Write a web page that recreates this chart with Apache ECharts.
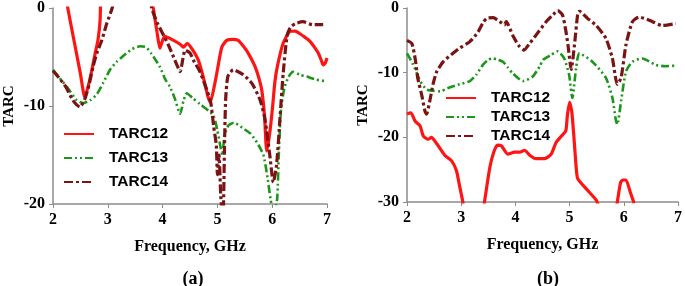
<!DOCTYPE html>
<html>
<head>
<meta charset="utf-8">
<script src="https://cdn.jsdelivr.net/npm/echarts@6/dist/echarts.min.js"></script>
<style>
  html, body { margin: 0; padding: 0; background: #fff; }
  #chart { width: 685px; height: 286px; }
</style>
</head>
<body>
<div id="chart"></div>
<script>
// [frequency GHz, TARC dB]; null = curve leaves the plot
const a12 = [[2.22, 2], [2.27, 0], [2.4, -3.8], [2.5, -6.7], [2.58, -9.1], [2.65, -7.8], [2.71, -6.3], [2.77, -4.6], [2.82, -3.3], [2.86, -1.2], [2.87, 2], null,
  [3.78, 2], [3.83, 0], [3.9, -2.5], [3.95, -4.1], [4.0, -3.3], [4.04, -2.9], [4.2, -3.3], [4.32, -3.7], [4.38, -4.0], [4.45, -3.6], [4.54, -4.2], [4.65, -5.3], [4.74, -7.0], [4.83, -9.1], [4.87, -9.6],
  [4.95, -7.8], [5.01, -6.0], [5.08, -4.0], [5.17, -3.3], [5.28, -3.2], [5.38, -3.3], [5.46, -3.8], [5.54, -4.4], [5.62, -5.2], [5.69, -6.0], [5.76, -7.2], [5.81, -8.4], [5.86, -11.0], [5.9, -14.6],
  [5.95, -13.0], [6.0, -10.5], [6.05, -7.5], [6.1, -5.8], [6.2, -3.6], [6.32, -2.4], [6.42, -2.35], [6.5, -2.6], [6.6, -3.0], [6.69, -3.4], [6.77, -4.0], [6.84, -4.6], [6.9, -5.4], [6.93, -5.8], [6.97, -5.6], [7.0, -5.1]];
const a13 = [[2, -6.3], [2.1, -7.0], [2.26, -8.1], [2.43, -9.4], [2.55, -9.7], [2.68, -9.4], [2.8, -8.8], [2.92, -7.6], [3.04, -6.3], [3.16, -5.5], [3.28, -4.9], [3.44, -4.2], [3.59, -3.9], [3.7, -4.0], [3.8, -4.7],
  [3.95, -6.0], [4.05, -7.3], [4.13, -8.0], [4.22, -9.2], [4.32, -10.8], [4.38, -9.5], [4.44, -8.7], [4.55, -9.2], [4.68, -9.8], [4.8, -10.3], [4.93, -11.0], [5.0, -12.5], [5.05, -14.0], [5.09, -15.0],
  [5.13, -13.0], [5.2, -12.0], [5.3, -11.7], [5.45, -12.2], [5.6, -12.8], [5.72, -13.7], [5.84, -15.0], [5.92, -17.5], [5.97, -19.5], [6.03, -21], [6.09, -19.5], [6.12, -15], [6.16, -10.4], [6.22, -8.2],
  [6.3, -7.0], [6.38, -6.5], [6.5, -6.8], [6.63, -7.0], [6.8, -7.3], [7, -7.5]];
const a14 = [[2, -6.4], [2.12, -7.2], [2.24, -8.1], [2.36, -9.4], [2.49, -10.1], [2.58, -9.3], [2.66, -7.8], [2.73, -6.0], [2.8, -4.6], [2.89, -3.3], [2.98, -1.6], [3.08, 0], [3.13, 1.5], null,
  [3.76, 1.5], [3.8, 0], [3.9, -1.5], [4.01, -2.7], [4.1, -3.7], [4.2, -5.0], [4.26, -5.8], [4.32, -6.5], [4.37, -5.2], [4.41, -4.3], [4.5, -4.6], [4.56, -5.3], [4.68, -6.5], [4.81, -8.4], [4.88, -9.7],
  [4.93, -12], [4.98, -14], [5.0, -17], [5.03, -15], [5.06, -19], [5.1, -22], [5.13, -14], [5.15, -9.4], [5.19, -7.0], [5.29, -6.3], [5.47, -6.8], [5.63, -7.7], [5.78, -9.4], [5.87, -11.4], [5.96, -15.2],
  [6.02, -17.8], [6.08, -16], [6.14, -11.4], [6.2, -6.7], [6.27, -2.9], [6.33, -2.0], [6.42, -1.6], [6.56, -1.4], [6.74, -1.7], [6.93, -1.7]];

const b12 = [[2.0, -16.4], [2.07, -16.2], [2.15, -17.5], [2.24, -18.2], [2.3, -19.8], [2.39, -20.3], [2.45, -20.0], [2.55, -21.0], [2.7, -22.8], [2.82, -23.6], [2.91, -25.1], [2.97, -27.5], [3.03, -30], [3.06, -32], null,
  [3.4, -32], [3.43, -30], [3.53, -24.6], [3.6, -22.3], [3.67, -21.2], [3.74, -21.3], [3.86, -22.6], [3.99, -22.3], [4.08, -22.3], [4.17, -22.0], [4.27, -22.8], [4.38, -23.3], [4.54, -23.3], [4.66, -22.6],
  [4.75, -20.8], [4.85, -19.8], [4.93, -19.0], [4.96, -16.5], [5.0, -14.6], [5.04, -16], [5.08, -20], [5.12, -24.5], [5.15, -26.4], [5.3, -27.9], [5.49, -29.7], [5.53, -30.5], null,
  [5.86, -31], [5.88, -30], [5.94, -27], [5.98, -26.6], [6.04, -26.6], [6.12, -28.5], [6.19, -30.2]];
const b13 = [[2.0, -7.0], [2.11, -8.7], [2.18, -10.0], [2.24, -11.3], [2.36, -12.6], [2.48, -12.8], [2.61, -12.9], [2.75, -12.4], [2.97, -11.8], [3.16, -11.3], [3.28, -10.3], [3.4, -8.8], [3.5, -8.0],
  [3.58, -7.8], [3.68, -8.0], [3.77, -8.3], [3.86, -9.2], [3.95, -10.1], [4.14, -11.3], [4.32, -10.6], [4.45, -9.0], [4.51, -8.0], [4.65, -7.3], [4.78, -6.7], [4.9, -7.8], [4.99, -10.3], [5.05, -13.9],
  [5.12, -9.3], [5.18, -7.0], [5.42, -8.3], [5.67, -10.8], [5.79, -13.9], [5.85, -17.2], [5.88, -18.0], [5.95, -14.4], [6.04, -9.8], [6.16, -8.3], [6.34, -7.8], [6.59, -8.8], [6.77, -9.0], [6.98, -8.9]];
const b14 = [[2.0, -5.0], [2.09, -5.5], [2.15, -7.8], [2.2, -10.9], [2.27, -13.4], [2.33, -15.9], [2.36, -16.4], [2.42, -14.4], [2.48, -11.8], [2.55, -9.8], [2.67, -8.3], [2.82, -7.2], [2.97, -6.2],
  [3.16, -5.2], [3.31, -3.7], [3.4, -2.3], [3.47, -1.6], [3.59, -1.5], [3.71, -2.1], [3.8, -2.6], [3.83, -2.1], [3.95, -4.2], [4.06, -5.8], [4.16, -6.5], [4.26, -5.5], [4.38, -4.2], [4.57, -2.1],
  [4.7, -1.0], [4.78, -0.4], [4.87, -1.1], [4.93, -3.5], [4.97, -5.7], [5.03, -9.5], [5.09, -5.7], [5.15, -0.9], [5.18, -0.5], [5.33, -1.6], [5.49, -2.7], [5.67, -4.7], [5.79, -7.8], [5.88, -11.8],
  [5.95, -10.8], [6.04, -5.7], [6.16, -2.1], [6.28, -1.4], [6.47, -1.9], [6.71, -2.7], [6.96, -2.4]];

const names = ['TARC12', 'TARC13', 'TARC14'];
const xTicks = [2, 3, 4, 5, 6, 7];

const serif = 'Liberation Serif';
const sans = 'Liberation Sans';
const axisGray = '#8c8c8c';

const styles = [
  { color: '#ff1414', width: 3.2, type: 'solid' },
  { color: '#1a961a', width: 2.6, type: [8, 3, 2, 3, 2, 3] },
  { color: '#7a1414', width: 3.2, type: [9, 3, 3, 3] }
];

function pts (arr) {
  return arr.map(p => p === null ? ['-', '-'] : p)
}

function xAxisCfg (gridIndex) {
  return {
    type: 'value', gridIndex: gridIndex, min: xTicks[0], max: xTicks[xTicks.length - 1], interval: 1,
    name: 'Frequency, GHz', nameLocation: 'middle', nameGap: 35,
    nameTextStyle: { fontFamily: serif, fontWeight: 'bold', fontSize: 16, color: '#000' },
    axisLine: { onZero: false, lineStyle: { color: axisGray, width: 1.5 } },
    axisTick: { show: true, length: 4, lineStyle: { color: axisGray } },
    axisLabel: { fontFamily: serif, fontWeight: 'bold', fontSize: 16, color: '#000', margin: 8 },
    splitLine: { show: false }
  }
}

function yAxisCfg (gridIndex, min, nameGap) {
  return {
    type: 'value', gridIndex: gridIndex, min: min, max: 0, interval: 10,
    name: 'TARC', nameLocation: 'middle', nameGap: nameGap,
    nameTextStyle: { fontFamily: serif, fontWeight: 'bold', fontSize: 15, color: '#000' },
    axisLine: { show: true, lineStyle: { color: axisGray, width: 1.5 } },
    axisTick: { show: true, length: 4, lineStyle: { color: axisGray } },
    axisLabel: { fontFamily: serif, fontWeight: 'bold', fontSize: 16, color: '#000', margin: 8 },
    splitLine: { show: false }
  }
}

function mkSeries (data, i, gridIndex) {
  return {
    name: names[i], type: 'line', xAxisIndex: gridIndex, yAxisIndex: gridIndex,
    data: pts(data), showSymbol: false, symbol: 'none', smooth: 0.2, clip: true,
    lineStyle: styles[i], itemStyle: { color: styles[i].color }, animation: false
  }
}

function legendCfg (left, top, gap) {
  return {
    left: left, top: top, orient: 'vertical', itemWidth: 30, itemHeight: 14, itemGap: gap,
    data: names,
    itemStyle: { opacity: 0 },
    textStyle: { fontFamily: sans, fontWeight: 'bold', fontSize: 15.5, color: '#000', lineHeight: 16, padding: [0, 0, 0, 10] }
  }
}

const chart = echarts.init(document.getElementById('chart'), null, { renderer: 'canvas' });

const option = {
  animation: false,
  title: [
    { text: '(a)', left: 188, top: 265, textAlign: 'center', textStyle: { fontFamily: serif, fontWeight: 'bold', fontSize: 18, color: '#000' } },
    { text: '(b)', left: 543, top: 265, textAlign: 'center', textStyle: { fontFamily: serif, fontWeight: 'bold', fontSize: 18, color: '#000' } }
  ],
  legend: [legendCfg(58, 121, 8), legendCfg(440, 85, 3)],
  grid: [
    { left: 53, top: 8, width: 274, height: 196 },
    { left: 407, top: 6, width: 272, height: 196 }
  ],
  xAxis: [xAxisCfg(0), xAxisCfg(1)],
  yAxis: [yAxisCfg(0, -20, 36), yAxisCfg(1, -30, 36)],
  series: [
    mkSeries(a12, 0, 0), mkSeries(a13, 1, 0), mkSeries(a14, 2, 0),
    mkSeries(b12, 0, 1), mkSeries(b13, 1, 1), mkSeries(b14, 2, 1)
  ]
};

chart.setOption(option);
</script>
</body>
</html>
